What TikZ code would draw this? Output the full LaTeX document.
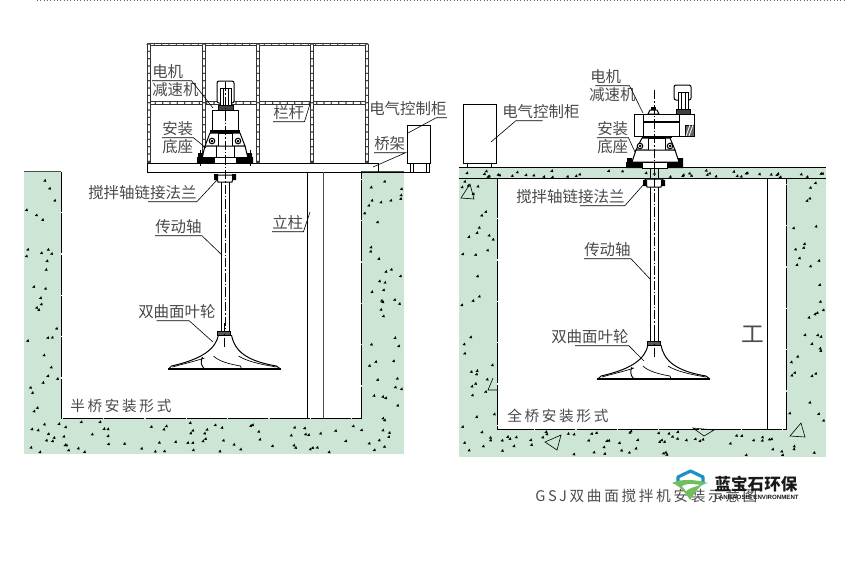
\documentclass[tikz,border=0pt]{standalone}
\usepackage{fontspec}
\newfontfamily\cjk{Noto Sans CJK SC}
\newfontfamily\cjkwide[LetterSpace=18]{Noto Sans CJK SC}
\setsansfont{Liberation Sans}
\definecolor{concrete}{HTML}{CDE5D4}
\definecolor{inktext}{HTML}{4A4A4A}
\definecolor{logoblue}{HTML}{1F8FC8}
\definecolor{logogreen}{HTML}{6FBF5F}
\tikzset{
  lbl/.style={font=\cjk\fontsize{11.6}{13}\selectfont,text=inktext,inner xsep=0pt,inner ysep=1pt},
  lblwide/.style={font=\cjkwide\fontsize{11}{13}\selectfont,text=inktext,inner xsep=0pt,inner ysep=1pt},
  leader/.style={draw=black,line width=.45pt},
  post/.style={draw=black!80,line width=2.6pt,line cap=round,
    postaction={draw=white,line width=1pt,dash pattern=on 4pt off 1.5pt}},
  part/.style={draw=black,line width=.75pt,fill=white},
  axis/.style={draw=black,line width=.45pt,dash pattern=on 7pt off 1.5pt on 1pt off 1.5pt},
  impeller/.pic={
    \draw[part,fill=black!65] (-7,0) rectangle (6,4);
    \draw[line width=.75pt] (-6,4) .. controls (-9,18) and (-22,28) .. (-53,35) -- (-56,38);
    \draw[line width=.75pt] (7,4) .. controls (10,20) and (22,30) .. (52,35) -- (56,38);
    \draw[line width=.5pt] (-11,25) .. controls (-6,30) and (4,33) .. (16,35) -- (17,38);
    \draw[line width=.5pt] (-20,27) .. controls (-32,31) and (-42,33) .. (-52,36);
    \draw[line width=.5pt] (14,25) .. controls (22,30) and (34,33) .. (52,36);
    \draw[line width=.7pt] (-22,26) .. controls (-24,30) and (-24,34) .. (-20,38);
    \draw[line width=.8pt] (-57,38) -- (56,38);
    \draw[axis] (0,-8) -- (0,16);
  }
}
\newcommand{\specks}[5]{\foreach \i in {1,...,#5}{%
  \pgfmathsetmacro\sx{#1+rnd*(#3-#1)}\pgfmathsetmacro\sy{#2+rnd*(#4-#2)}%
  \fill[black] (\sx,\sy) +(-1.7,.9) -- +(1.4,1.3) -- +(.6,-1.6) -- cycle;}}
\begin{document}
\begin{tikzpicture}[>=latex,x=.75pt,y=-.75pt]
  \useasboundingbox (0,0) rectangle (845,562);
  \pgfmathsetseed{29}
  \draw[black!60,line width=.5pt,dotted] (37,.5) -- (845,.5);
  % left pit
  \fill[concrete] (24,171) rectangle (404,454);
  \specks{26}{173}{60}{452}{42}
  \specks{363}{174}{402}{452}{50}
  \specks{62}{421}{362}{452}{60}
  \fill[white] (61,171) rectangle (361,418);
  \draw[black,line width=.7pt,dash pattern=on 30pt off 1pt] (61,172) -- (61,418) -- (361,418) -- (361,172);
  \draw[black!70,line width=.7pt] (24,171.5) -- (61,171.5);
  \draw[black!70,line width=.7pt] (361,171.5) -- (404,171.5);
  % left bridge
  \draw[line width=.6pt] (147,163) -- (378,163) -- (378,172);
  \draw[line width=.6pt] (147,163) -- (147,172) -- (430,172);
  \draw[line width=.7pt] (307,172) -- (307,418);
  \draw[black!70,line width=.6pt] (323,172) -- (323,418);
  %
  \draw[post] (148,44.5) -- (367,44.5);
  \draw[post] (149,103) -- (367,103);
  \foreach \px in {149,204,258,312,367}
    \draw[post] (\px,45) -- (\px,162);
  % left cabinet
  \draw[part] (407,125) rectangle (430,163);
  \draw[line width=.6pt] (410,163) -- (410,172) (413,163) -- (413,172) (426,163) -- (426,172) (429,163) -- (429,172);
  % left drive
  \draw[part,rounded corners=1.5pt] (217,81) -- (234,81) -- (234,103) -- (217,103) -- cycle;
  \draw[part] (220,88) rectangle (231,105);
  \draw[line width=.6pt] (223,88) -- (223,105) (228,88) -- (228,105);
  \draw[part,fill=black!75] (218,105) rectangle (233,110);
  \draw[part] (212,110) rectangle (238,131);
  \fill[black] (210,130) rectangle (240,133);
  \draw[part] (210,133) -- (240,133) -- (245,146) -- (205,146) -- cycle;
  \draw[part] (218,133) rectangle (232,146);
  \draw[part] (205,146) -- (245,146) -- (248,158) -- (202,158) -- cycle;
  \draw[line width=.6pt] (216,146) -- (216,158) (234,146) -- (234,158);
  \fill[black] (197,157) rectangle (253,163) (198,153) rectangle (203,157) (247,153) rectangle (252,157);
  \fill[white] (214,157) rectangle (236,163);
  \draw[line width=.6pt] (214,157) rectangle (236,163);
  \draw[line width=.5pt] (200,150) -- (200,166) (250,150) -- (250,166);
  \draw[part] (212,141) circle (2.8) (238,141) circle (2.8);
  \fill[black] (212,141) circle (1.5) (238,141) circle (1.5);
  % left flange and shaft
  \draw[line width=.7pt] (221,180) -- (221,331) (229,180) -- (229,331);
  \draw[part] (216,175) -- (234,175) -- (232,182) -- (218,182) -- cycle;
  \fill[black] (214,174) rectangle (218,180) (232,174) rectangle (236,180);
  \draw[axis] (225,82) -- (225,331);
  \pic at (224.5,331) {impeller};
  % right pit
  \fill[concrete] (459,167) rectangle (826,457);
  \specks{461}{170}{824}{177}{44}
  \specks{461}{180}{495}{455}{40}
  \specks{788}{180}{824}{455}{38}
  \specks{499}{431}{785}{455}{56}
  \fill[white] (497,178) rectangle (786,429);
  \draw[line width=.7pt] (459,167.5) -- (826,167.5);
  \draw[line width=.7pt] (459,178) -- (826,178);
  \draw[black,line width=.7pt,dash pattern=on 30pt off 1pt] (497,178) -- (497,429) -- (786,429) -- (786,178);
  \draw[line width=.7pt] (767.5,178) -- (767.5,429);
  \node[font=\cjk\fontsize{17}{18}\selectfont,text=black!70,inner sep=0pt] (lblBreak) at (753,334) {工};
  % rubble marks
  \draw[line width=.45pt] (470,184) -- (461,198) -- (474,199) -- cycle;
  \draw[line width=.45pt] (561,435) -- (545,442) -- (557,450) -- cycle;
  \draw[line width=.45pt] (693,428) -- (714,430) -- (704,436) -- cycle;
  \draw[line width=.45pt] (801,423) -- (790,436) -- (805,437) -- cycle;
  \draw[line width=.45pt] (493,378) -- (488,390) -- (497,390);
  % right cabinet
  \draw[part] (463,104) rectangle (496,163);
  \draw[line width=.6pt] (467,163) -- (467,167) (491,163) -- (491,167);
  % right drive
  \draw[part,rounded corners=1.5pt] (674,85) rectangle (691,100);
  \draw[part] (678,92) rectangle (688,109);
  \draw[line width=.6pt] (681,92) -- (681,109) (685,92) -- (685,109);
  \draw[part,fill=black!75] (676,109) rectangle (690,114);
  \draw[part] (648,114) -- (650,110) -- (657,110) -- (659,114) -- cycle;
  \fill[black] (651,107) rectangle (656,110);
  \draw[part] (634,114) rectangle (694,136);
  \draw[line width=.6pt] (643,114) -- (643,136) (679,114) -- (679,136);
  \draw[line width=1.1pt] (643,122) -- (679,122);
  \draw[part,fill=black!60] (685,125) rectangle (694,136);
  \draw[white,line width=.6pt] (686,136) -- (690,125) (689,136) -- (693,125);
  \fill[black] (642,136) rectangle (672,138);
  \draw[part] (642,138) -- (670,138) -- (675,150) -- (636,150) -- cycle;
  \draw[part] (648,138) rectangle (665,150);
  \draw[part] (636,150) -- (675,150) -- (679,162) -- (632,162) -- cycle;
  \fill[black] (626,162) rectangle (683,168) (627,158) rectangle (632,162) (678,158) rectangle (683,162);
  \fill[white] (642,162) rectangle (667,168);
  \draw[line width=.6pt] (642,162) rectangle (667,168);
  \draw[part] (640,146) circle (2.8) (670,146) circle (2.8);
  \fill[black] (640,146) circle (1.5) (670,146) circle (1.5);
  % right flange and shaft
  \draw[line width=.7pt] (650,186) -- (650,341) (658,186) -- (658,341);
  \draw[part] (645,179) -- (663,179) -- (661,187) -- (647,187) -- cycle;
  \fill[black] (643,180) rectangle (647,186) (661,180) rectangle (665,186);
  \draw[line width=.5pt] (650,168) -- (650,179) (658,168) -- (658,179);
  \draw[axis] (654,90) -- (654,341);
  \pic at (654,341) {impeller};
  % left labels
  \node[lbl,anchor=west] (lblMotorL) at (152,72) {电机};
  \node[lbl,anchor=west] (lblReducerL) at (152,90) {减速机};
  \node[lbl,anchor=west] (lblSeatL) at (162,129) {安装};
  \node[lbl,anchor=west] (lblBaseL) at (162,147) {底座};
  \node[lbl,anchor=west] (lblRailL) at (273,113) {栏杆};
  \node[lbl,anchor=west] (lblCabL) at (369,109) {电气控制柜};
  \node[lbl,anchor=west] (lblBridgeL) at (374,144) {桥架};
  \node[lbl,anchor=west] (lblFlangeL) at (88,193) {搅拌轴链接法兰};
  \node[lbl,anchor=west] (lblShaftL) at (155,227) {传动轴};
  \node[lbl,anchor=west] (lblPostL) at (272,223) {立柱};
  \node[lbl,anchor=west] (lblWheelL) at (138,312) {双曲面叶轮};
  \node[lblwide,anchor=west] (lblModeL) at (70,406) {半桥安装形式};
  % right labels
  \node[lbl,anchor=west] (lblMotorR) at (590,77) {电机};
  \node[lbl,anchor=west] (lblReducerR) at (589,95) {减速机};
  \node[lbl,anchor=west] (lblSeatR) at (597,129) {安装};
  \node[lbl,anchor=west] (lblBaseR) at (597,147) {底座};
  \node[lbl,anchor=west] (lblCabR) at (502,112) {电气控制柜};
  \node[lbl,anchor=west] (lblFlangeR) at (516,197) {搅拌轴链接法兰};
  \node[lbl,anchor=west] (lblShaftR) at (584,250) {传动轴};
  \node[lbl,anchor=west] (lblWheelR) at (551,337) {双曲面叶轮};
  \node[lblwide,anchor=west] (lblModeR) at (507,416) {全桥安装形式};
  \node[lblwide,anchor=west,text=black!70] (lblTitle) at (535,496) {GSJ双曲面搅拌机安装示意图};
  % leaders
  \coordinate (endMotorL) at (213,108);
  \coordinate (endSeatL) at (206,148);
  \coordinate (endRailL) at (310,104);
  \coordinate (endCabL) at (408,133);
  \coordinate (endBridgeL) at (373,167);
  \coordinate (endFlangeL) at (217,180);
  \coordinate (endShaftL) at (222,255);
  \coordinate (endPostL) at (310,212);
  \coordinate (endWheelL) at (213,342);
  \coordinate (endMotorR) at (643,113);
  \coordinate (endSeatR) at (635,152);
  \coordinate (endCabR) at (491,142);
  \coordinate (endFlangeR) at (644,184);
  \coordinate (endShaftR) at (651,280);
  \coordinate (endWheelR) at (644,361);
  \draw[leader] (lblMotorL.south west) -- ([xshift=6pt]lblMotorL.south east) -- (endMotorL);
  \draw[leader] (lblSeatL.south west) -- (lblSeatL.south east) -- (endSeatL);
  \draw[leader] (lblRailL.south west) -- (lblRailL.south east) -- (endRailL);
  \draw[leader] (lblCabL.south east) -- ([xshift=-8pt]lblCabL.south east) -- (endCabL);
  \draw[leader] (lblBridgeL.south west) -- (lblBridgeL.south east) -- (endBridgeL);
  \draw[leader] ([xshift=45pt]lblFlangeL.south west) -- (lblFlangeL.south east) -- (endFlangeL);
  \draw[leader] (lblShaftL.south west) -- (lblShaftL.south east) -- (endShaftL);
  \draw[leader] (lblPostL.south west) -- (lblPostL.south east) -- (endPostL);
  \draw[leader] ([xshift=14pt]lblWheelL.south west) -- ([xshift=-20pt]lblWheelL.south east) -- (endWheelL);
  \draw[leader] ([xshift=4pt]lblMotorR.south west) -- ([xshift=6pt]lblMotorR.south east) -- (endMotorR);
  \draw[leader] (lblSeatR.south west) -- (lblSeatR.south east) -- (endSeatR);
  \draw[leader] ([xshift=-28pt]lblCabR.south east) -- ([xshift=-48pt]lblCabR.south east) -- (endCabR);
  \draw[leader] ([xshift=48pt]lblFlangeR.south west) -- (lblFlangeR.south east) -- (endFlangeR);
  \draw[leader] (lblShaftR.south west) -- (lblShaftR.south east) -- (endShaftR);
  \draw[leader] ([xshift=18pt]lblWheelR.south west) -- (lblWheelR.south east) -- (endWheelR);
  % logo
  \draw[logoblue,line width=2.4pt,line join=round] (678,484) -- (678,477) -- (690.5,471) -- (703,477) -- (703,484);
  \fill[logogreen] (672,483) .. controls (682,478) and (698,480) .. (708,483) .. controls (700,484) and (697,490) .. (690,500) .. controls (685,492) and (680,486) .. (672,483) -- cycle;
  \fill[white] (682,486) .. controls (688,483) and (694,484) .. (700,485) .. controls (694,487) and (689,488) .. (686,491) -- cycle;
  \node[font=\cjk\bfseries\fontsize{12.4}{13}\selectfont,text=black!90,inner sep=0pt] (logoName) at (756,484) {蓝宝石环保};
  \node[font=\sffamily\bfseries\fontsize{4.6}{6}\selectfont,text=black!90,inner sep=0pt] (logoSub) at (757,497) {LANBAOSHI ENVIRONMENT};
\end{tikzpicture}
\end{document}
